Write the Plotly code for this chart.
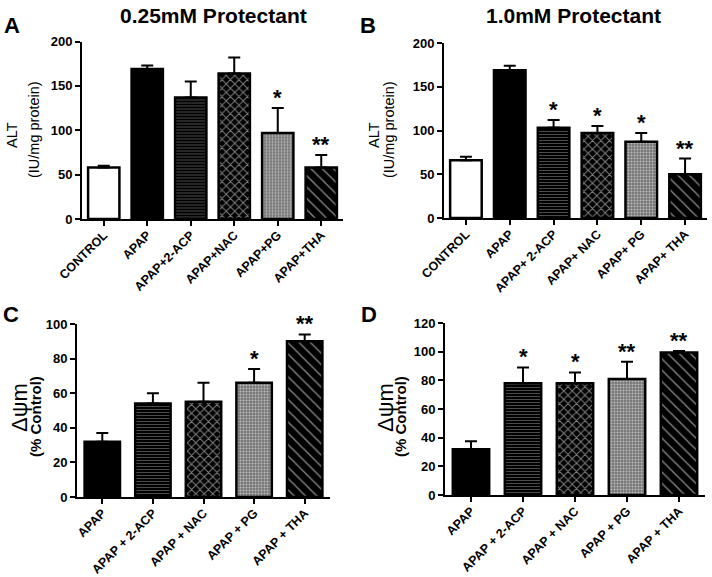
import plotly.graph_objects as go

# ---------------- data ----------------
cats_a = ["CONTROL", "APAP", "APAP+2-ACP", "APAP+NAC", "APAP+PG", "APAP+THA"]
alt_025 = [58, 169, 137, 164, 97, 58]
alt_025_err = [2, 4, 18, 18, 28, 14]
stars_a = ["", "", "", "", "*", "**"]

cats_b = ["CONTROL", "APAP", "APAP+ 2-ACP", "APAP+ NAC", "APAP+ PG", "APAP+ THA"]
alt_10 = [66, 169, 103, 97, 87, 50]
alt_10_err = [4, 5, 9, 8, 10, 18]
stars_b = ["", "", "*", "*", "*", "**"]

cats_cd = ["APAP", "APAP + 2-ACP", "APAP + NAC", "APAP + PG", "APAP + THA"]
dpsi_c = [32, 54, 55, 66, 90]
dpsi_c_err = [5, 6, 11, 8, 4]
stars_c = ["", "", "", "*", "**"]

dpsi_d = [32, 78, 78, 81, 99.5]
dpsi_d_err = [5.5, 11, 7.5, 12, 1]
stars_d = ["", "*", "*", "**", "**"]

# ---------------- styles ----------------
FONT = "Liberation Sans"
W, H = 712, 577


def px_x(p):
    return p / W


def px_y(p):
    return 1 - p / H


# pattern per treatment: control, apap, 2-ACP, NAC, PG, THA
pat_shape = ["", "", "-", "x", ".", "\\"]
pat_color = ["white", "black", "black", "black", "#777777", "black"]
pat_size = [5, 5, 3, 6, 3, 8]
pat_solid = [0.3, 0.3, 0.2, 0.3, 0.35, 0.18]

fig = go.Figure()

panels = [
    dict(ax="", cats=cats_a, vals=alt_025, err=alt_025_err, stars=stars_a,
         sel=slice(0, 6), width=0.72,
         xd=[82, 343], yd=[219, 41.5], rng=[0, 200], dtick=50),
    dict(ax="2", cats=cats_b, vals=alt_10, err=alt_10_err, stars=stars_b,
         sel=slice(0, 6), width=0.72,
         xd=[444, 707], yd=[218, 43], rng=[0, 200], dtick=50),
    dict(ax="3", cats=cats_cd, vals=dpsi_c, err=dpsi_c_err, stars=stars_c,
         sel=slice(1, 6), width=0.70,
         xd=[77, 330], yd=[497, 324], rng=[0, 100], dtick=20),
    dict(ax="4", cats=cats_cd, vals=dpsi_d, err=dpsi_d_err, stars=stars_d,
         sel=slice(1, 6), width=0.70,
         xd=[445, 705], yd=[495, 323], rng=[0, 120], dtick=20),
]

layout_axes = {}
annotations = []
for p in panels:
    xa = "x" + p["ax"]
    ya = "y" + p["ax"]
    s = p["sel"]
    fig.add_trace(go.Bar(
        x=p["cats"], y=p["vals"], xaxis=xa, yaxis=ya, width=p["width"],
        marker=dict(
            color=pat_color[s],
            line=dict(color="black", width=2.5),
            pattern=dict(shape=pat_shape[s], bgcolor="white",
                         size=pat_size[s], solidity=pat_solid[s]),
        ),
        error_y=dict(type="data", array=p["err"],
                     arrayminus=[0] * len(p["err"]), symmetric=False,
                     color="black", thickness=2, width=6),
        showlegend=False,
    ))
    n = len(p["cats"])
    layout_axes["xaxis" + p["ax"]] = dict(
        domain=[px_x(p["xd"][0]), px_x(p["xd"][1])], anchor=ya,
        range=[-0.5, n - 0.5], showline=True, linecolor="black", linewidth=2,
        ticks="outside", ticklen=5, tickwidth=2, tickcolor="black",
        tickangle=-45, showgrid=False, zeroline=False, automargin=False,
        ticklabelstandoff=-3,
        tickfont=dict(family=FONT, size=12.5, color="black", weight="bold"),
    )
    layout_axes["yaxis" + p["ax"]] = dict(
        domain=[px_y(p["yd"][0]), px_y(p["yd"][1])], anchor=xa,
        range=p["rng"], dtick=p["dtick"], showline=True, linecolor="black",
        linewidth=2, ticks="outside", ticklen=5, tickwidth=2,
        tickcolor="black", showgrid=False, zeroline=False, automargin=False,
        tickfont=dict(family=FONT, size=13, color="black", weight="bold"),
    )
    for c, v, e, st in zip(p["cats"], p["vals"], p["err"], p["stars"]):
        if st:
            annotations.append(dict(
                x=c, y=v + e, xref=xa, yref=ya, text=st, showarrow=False,
                yanchor="bottom", yshift=-4,
                font=dict(family=FONT, size=22, color="black", weight="bold"),
            ))

# panel letters
for letter, x, y in [("A", 12, 26), ("B", 368, 26), ("C", 11, 314), ("D", 369, 315)]:
    annotations.append(dict(
        x=px_x(x), y=px_y(y), xref="paper", yref="paper", text=letter,
        showarrow=False, xanchor="center", yanchor="middle",
        font=dict(family=FONT, size=22, color="black", weight="bold"),
    ))

# panel titles
for t, x, y in [("0.25mM Protectant", 213, 15), ("1.0mM Protectant", 573, 16)]:
    annotations.append(dict(
        x=px_x(x), y=px_y(y), xref="paper", yref="paper", text=t,
        showarrow=False, xanchor="center", yanchor="middle",
        font=dict(family=FONT, size=21, color="black", weight="bold"),
    ))

# y axis titles
ytitles = [
    ("ALT", 12, 135, 14.5, "normal"), ("(IU/mg protein)", 34, 130, 14.5, "normal"),
    ("ALT", 374, 135, 14.5, "normal"), ("(IU/mg protein)", 389, 130, 14.5, "normal"),
    ("Δψm", 19, 408, 22, "normal"), ("(% Control)", 35, 417, 15, "bold"),
    ("Δψm", 385, 408, 22, "normal"), ("(% Control)", 400, 417, 15, "bold"),
]
for t, x, y, sz, wgt in ytitles:
    annotations.append(dict(
        x=px_x(x), y=px_y(y), xref="paper", yref="paper", text=t,
        showarrow=False, xanchor="center", yanchor="middle", textangle=-90,
        font=dict(family=FONT, size=sz, color="black", weight=wgt),
    ))

fig.update_layout(
    width=W, height=H, margin=dict(l=0, r=0, t=0, b=0, autoexpand=False),
    paper_bgcolor="white", plot_bgcolor="white",
    annotations=annotations, bargap=0.3,
    **layout_axes,
)

# the page body normally has an 8px margin; drop it so the figure fills the window
fig.write_html("out.html", config={"displayModeBar": False},
               post_script="document.body.style.margin='0';")
